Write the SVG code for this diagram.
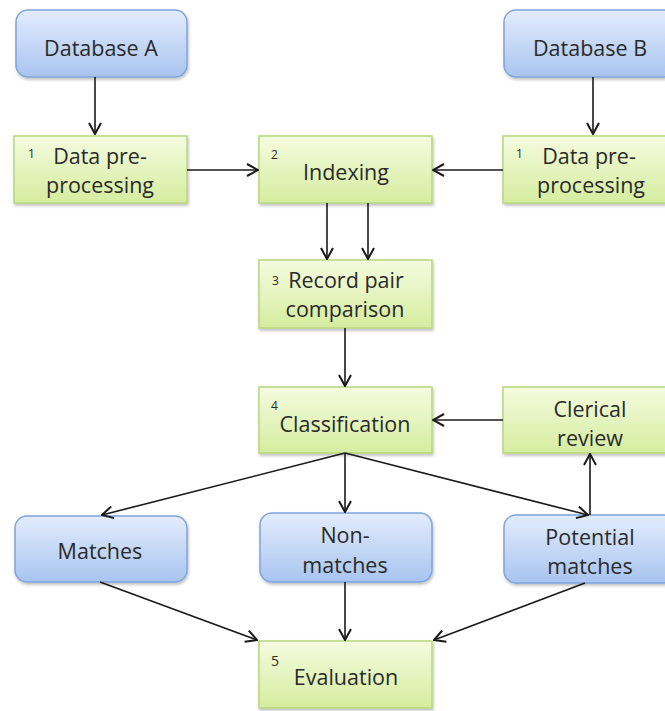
<svg xmlns="http://www.w3.org/2000/svg" width="665" height="711" viewBox="0 0 665 711">
<defs>
<linearGradient id="gb" x1="0" y1="0" x2="0" y2="1">
<stop offset="0" stop-color="#e3ecfc"/>
<stop offset="1" stop-color="#a8c4f0"/>
</linearGradient>
<linearGradient id="gg" x1="0" y1="0" x2="0" y2="1">
<stop offset="0" stop-color="#f5fbdf"/>
<stop offset="1" stop-color="#d5ed9f"/>
</linearGradient>
<marker id="ah" viewBox="0 0 14 14" refX="13" refY="7" markerWidth="14" markerHeight="14" markerUnits="userSpaceOnUse" orient="auto">
<path d="M2,1 L13,7 L2,13" fill="none" stroke="#1a1a1a" stroke-width="2"/>
</marker>
<filter id="sh" x="-10%" y="-10%" width="130%" height="140%">
<feDropShadow dx="1" dy="2" stdDeviation="1.5" flood-color="#000" flood-opacity="0.25"/>
</filter>
</defs>
<style>
.b{fill:url(#gb);stroke:#7fa4dd;stroke-width:1.5;filter:url(#sh)}
.g{fill:url(#gg);stroke:#b8d67e;stroke-width:1.5;filter:url(#sh)}
text{font-family:"Open Sans",Lato,"Liberation Sans",sans-serif;font-size:21.5px;fill:#2a2a2a;text-anchor:middle}
.s{font-size:12px;text-anchor:start}
.c line{stroke:#1a1a1a;stroke-width:1.6;marker-end:url(#ah)}
</style>
<rect width="665" height="711" fill="#fff"/>
<g id="dbA"><rect class="b" x="16" y="10" width="171" height="67" rx="12"/><text x="101" y="56">Database A</text></g>
<g id="dbB"><rect class="b" x="504" y="10" width="172" height="67" rx="12"/><text x="590" y="56">Database B</text></g>
<g id="preA"><rect class="g" x="14" y="136" width="173" height="67"/><text class="s" x="28" y="158">1</text><text x="100" y="164">Data pre-</text><text x="100" y="193">processing</text></g>
<g id="preB"><rect class="g" x="503" y="136" width="172" height="67"/><text class="s" x="516" y="158">1</text><text x="589" y="164">Data pre-</text><text x="591" y="193">processing</text></g>
<g id="idx"><rect class="g" x="259" y="136" width="173" height="67"/><text class="s" x="271" y="159">2</text><text x="346" y="180">Indexing</text></g>
<g id="rpc"><rect class="g" x="259" y="260" width="173" height="68"/><text class="s" x="272" y="285">3</text><text x="346" y="288">Record pair</text><text x="345" y="317">comparison</text></g>
<g id="cls"><rect class="g" x="259" y="387" width="173" height="66"/><text class="s" x="271" y="410">4</text><text x="345" y="432">Classification</text></g>
<g id="cler"><rect class="g" x="503" y="387" width="172" height="66"/><text x="590" y="417">Clerical</text><text x="590" y="446">review</text></g>
<g id="mat"><rect class="b" x="15" y="516" width="172" height="66" rx="12"/><text x="100" y="559">Matches</text></g>
<g id="non"><rect class="b" x="260" y="513" width="172" height="69" rx="12"/><text x="345" y="543">Non-</text><text x="345" y="573">matches</text></g>
<g id="pot"><rect class="b" x="504" y="515" width="172" height="68" rx="12"/><text x="590" y="545">Potential</text><text x="590" y="574">matches</text></g>
<g id="eval"><rect class="g" x="259" y="641" width="173" height="67"/><text class="s" x="271" y="666" style="font-size:14px">5</text><text x="346" y="685">Evaluation</text></g>
<g class="c" id="connectors">
<line x1="95" y1="77" x2="95" y2="134"/>
<line x1="593" y1="77" x2="593" y2="134"/>
<line x1="187" y1="170" x2="258" y2="170"/>
<line x1="503" y1="170" x2="433" y2="170"/>
<line x1="327" y1="203" x2="327" y2="259"/>
<line x1="368" y1="203" x2="368" y2="259"/>
<line x1="345" y1="328" x2="345" y2="386"/>
<line x1="503" y1="420" x2="433" y2="420"/>
<line x1="345" y1="453" x2="102" y2="515"/>
<line x1="345" y1="453" x2="345" y2="512"/>
<line x1="345" y1="453" x2="588" y2="515"/>
<line x1="590" y1="515" x2="590" y2="454"/>
<line x1="100" y1="582" x2="257" y2="640"/>
<line x1="345" y1="582" x2="345" y2="640"/>
<line x1="585" y1="583" x2="434" y2="640"/>
</g>
</svg>
